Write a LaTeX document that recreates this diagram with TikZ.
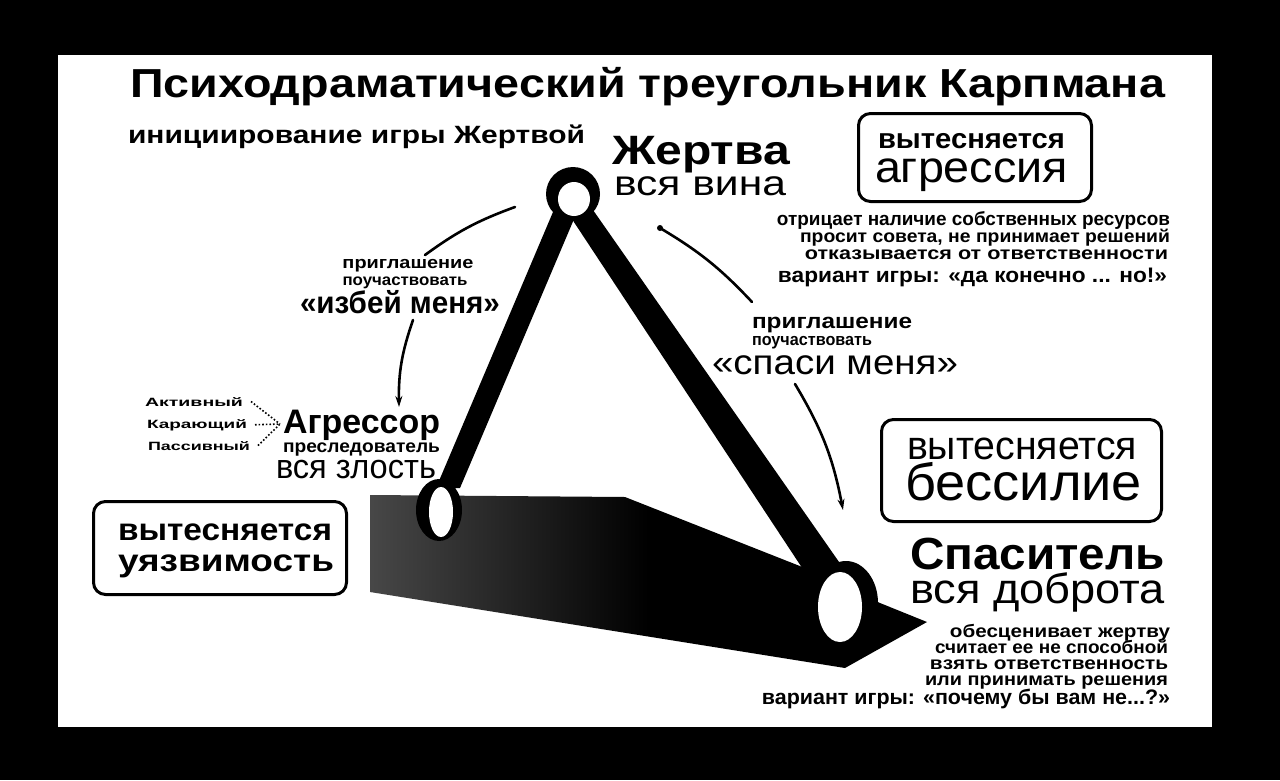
\documentclass[tikz,border=0pt]{standalone}
\usepackage{fontspec}
\setmainfont{Liberation Sans}
\usetikzlibrary{arrows.meta,shapes.geometric}
\newcommand{\tx}[3]{\resizebox{#1pt}{\height}{\fontsize{#2pt}{#2pt}\selectfont #3}}
\tikzset{
  txt/.style={inner sep=0pt, outer sep=0pt},
  vbox/.style={draw=black, line width=3pt, rounded corners=12pt, inner sep=0pt},
  arcline/.style={line width=2.6pt, line cap=round},
  arrowline/.style={arcline, -{Stealth[length=11pt,width=7pt]}},
  ringout/.style={ellipse, fill=black, inner sep=0pt},
  ringin/.style={ellipse, fill=white, inner sep=0pt},
  fanline/.style={dotted, line width=1.6pt},
}
\begin{document}
\begin{tikzpicture}[x=1pt,y=-1pt]
\useasboundingbox (0,0) rectangle (1280,780);
\fill[black] (0,0) rectangle (1280,780);
\fill[white] (58,55) rectangle (1212,727);

% title
\node[txt, anchor=base west] (title) at (130,97) {\tx{1035}{40.5}{\bfseries Психодраматический треугольник Карпмана}};
\node[txt, anchor=base west] (sub) at (128,143) {\tx{457}{25}{\bfseries инициирование игры Жертвой}};

% shadow
\shade[left color=black!72, right color=black, middle color=black]
  (370,495) -- (625,497) -- (815,572) -- (880,603) -- (927,622) -- (845,668) -- (370,592) -- cycle;

% legs
\fill[black] (553,212) -- (577,212) -- (460,488) -- (436,488) -- cycle;
\fill[black] (566,210) -- (593,210) -- (860,592) -- (818,592) -- cycle;

% vertices
\node[ringout, minimum width=54pt, minimum height=54pt] (vJo) at (573,194) {};
\node[ringin, minimum width=32pt, minimum height=34pt] (vJ) at (574,199) {};
\node[ringout, minimum width=46pt, minimum height=62pt] (vAo) at (439,510) {};
\node[ringin, minimum width=24pt, minimum height=50pt] (vA) at (441,512) {};
\node[ringout, minimum width=64pt, minimum height=84pt] (vSo) at (846,603) {};
\node[ringin, minimum width=44pt, minimum height=70pt] (vS) at (840,607) {};

% Жертва
\node[txt, anchor=base west] (zh) at (612,164) {\tx{178}{41}{\bfseries Жертва}};
\node[txt, anchor=base west] (zh2) at (614,195) {\tx{172}{35}{вся вина}};

% box top right
\node[vbox, minimum width=233pt, minimum height=88pt, anchor=north west] (boxT) at (857,112) {};
\node[txt, anchor=base west] (boxT1) at (878,148) {\tx{187}{28}{\bfseries вытесняется}};
\node[txt, anchor=base west] (boxT2) at (875,182) {\tx{193}{44}{агрессия}};

% right description
\node[txt, anchor=base east] (r1) at (1170,225) {\tx{393}{19}{\bfseries отрицает наличие собственных ресурсов}};
\node[txt, anchor=base east] (r2) at (1170,242) {\tx{370}{18}{\bfseries просит совета, не принимает решений}};
\node[txt, anchor=base east] (r3) at (1168,259) {\tx{363}{18}{\bfseries отказывается от ответственности}};
\node[txt, anchor=base east] (r4) at (1167,282) {\tx{389}{21}{\bfseries вариант игры: «да конечно ... но!»}};

% left invitation
\node[txt, anchor=base] (li1) at (408,268) {\tx{131}{17}{\bfseries приглашение}};
\node[txt, anchor=base] (li2) at (405,285) {\tx{125}{16}{\bfseries поучаствовать}};
\node[txt, anchor=base] (li3) at (400,313) {\tx{200}{31}{\bfseries «избей меня»}};

% right invitation
\node[txt, anchor=base west] (ri1) at (752,328) {\tx{160}{21}{\bfseries приглашение}};
\node[txt, anchor=base west] (ri2) at (752,345) {\tx{120}{17}{\bfseries поучаствовать}};
\node[txt, anchor=base west] (ri3) at (712,374) {\tx{246}{35}{«спаси меня»}};

% arcs
\coordinate (a1) at (515,207);
\coordinate (a2) at (425,255);
\coordinate (b1) at (413,320);
\coordinate (b2) at (399,407);
\coordinate (c1) at (660,228);
\coordinate (c2) at (752,302);
\coordinate (d1) at (795,384);
\coordinate (d2) at (843,510);
\draw[arcline] (a1) to[bend right=8] (a2);
\draw[arrowline] (b1) to[bend right=10] (b2);
\draw[arcline] (c1) to[bend left=8] (c2);
\fill (c1) circle (3);
\draw[arrowline] (d1) to[bend left=10] (d2);

% Агрессор
\node[txt, anchor=base west] (ag) at (283,433) {\tx{157}{34}{\bfseries Агрессор}};
\node[txt, anchor=base west] (ag2) at (283,452) {\tx{157}{18}{\bfseries преследователь}};
\node[txt, anchor=base west] (ag3) at (276,478) {\tx{160}{34}{вся злость}};

% small words
\node[txt, anchor=base west] (akt) at (145,406) {\tx{98}{12}{\bfseries Активный}};
\node[txt, anchor=base west] (kar) at (147,428) {\tx{100}{12}{\bfseries Карающий}};
\node[txt, anchor=base west] (pas) at (148,450) {\tx{102}{12}{\bfseries Пассивный}};
\coordinate (fan) at (280,424);
\draw[fanline] ([xshift=8pt]akt.east) -- (fan);
\draw[fanline] ([xshift=8pt]kar.east) -- (fan);
\draw[fanline] ([xshift=8pt]pas.east) -- (fan);

% left box
\node[vbox, minimum width=253pt, minimum height=93pt, anchor=north west] (boxL) at (92,500) {};
\node[txt, anchor=base west] (boxL1) at (118,540) {\tx{214}{31}{\bfseries вытесняется}};
\node[txt, anchor=base west] (boxL2) at (118,571) {\tx{216}{31}{\bfseries уязвимость}};

% right box
\node[vbox, minimum width=280pt, minimum height=102pt, anchor=north west] (boxR) at (880,418) {};
\node[txt, anchor=base west] (boxR1) at (907,459) {\tx{230}{40}{вытесняется}};
\node[txt, anchor=base west] (boxR2) at (905,500) {\tx{237}{52}{бессилие}};

% Спаситель
\node[txt, anchor=base west] (sp) at (910,569) {\tx{255}{45}{\bfseries Спаситель}};
\node[txt, anchor=base west] (sp2) at (910,603) {\tx{255}{42}{вся доброта}};

% bottom right description
\node[txt, anchor=base east] (s1) at (1170,637) {\tx{220}{18}{\bfseries обесценивает жертву}};
\node[txt, anchor=base east] (s2) at (1168,653) {\tx{233}{18}{\bfseries считает ее не способной}};
\node[txt, anchor=base east] (s3) at (1168,669) {\tx{238}{18}{\bfseries взять ответственность}};
\node[txt, anchor=base east] (s4) at (1168,685) {\tx{243}{18}{\bfseries или принимать решения}};
\node[txt, anchor=base east] (s5) at (1170,704) {\tx{408}{21}{\bfseries вариант игры: «почему бы вам не...?»}};
\end{tikzpicture}
\end{document}
